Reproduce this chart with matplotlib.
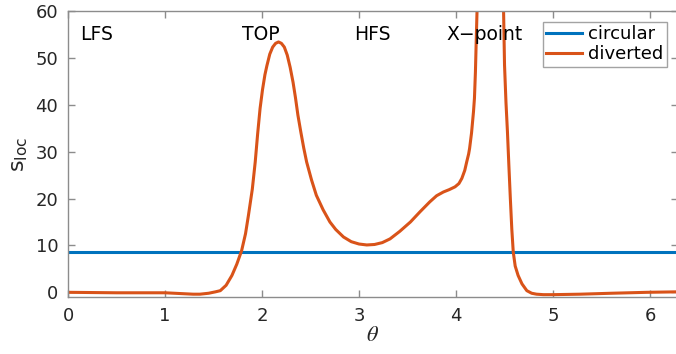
import numpy as np
import matplotlib.pyplot as plt

plt.rcParams['font.family'] = ['DejaVu Sans']
plt.rcParams['mathtext.fontset'] = 'stix'

# poloidal angle and local shear, circular vs diverted geometry
theta = [0.0, 0.5, 1.0, 1.29, 1.36, 1.45, 1.52, 1.57, 1.63, 1.69, 1.74, 1.79,
         1.83, 1.86, 1.90, 1.93, 1.955, 1.98, 2.005, 2.03, 2.05, 2.08, 2.11,
         2.14, 2.17, 2.20, 2.23, 2.26, 2.29, 2.32, 2.345, 2.37, 2.40, 2.43,
         2.46, 2.51, 2.56, 2.63, 2.70, 2.76, 2.84, 2.92, 3.00, 3.08, 3.16,
         3.24, 3.32, 3.42, 3.53, 3.63, 3.73, 3.80, 3.87, 3.93, 3.99, 4.03,
         4.06, 4.09, 4.11, 4.13, 4.14, 4.16, 4.18, 4.19, 4.20, 4.21, 4.23,
         4.30, 4.38, 4.46, 4.49, 4.50, 4.515, 4.53, 4.545, 4.56, 4.575, 4.59,
         4.61, 4.64, 4.68, 4.73, 4.78, 4.83, 4.90, 5.00, 5.28, 5.60, 5.97,
         6.283]
s_diverted = [0.0, -0.1, -0.1, -0.4, -0.4, -0.2, 0.1, 0.35, 1.5, 3.6, 6.0,
              8.9, 12.5, 16.4, 22.0, 27.8, 33.8, 39.2, 43.2, 46.4, 48.3, 50.8,
              52.3, 53.1, 53.4, 53.1, 52.3, 50.6, 48.0, 44.8, 41.5, 37.8, 34.2,
              30.8, 27.8, 24.0, 20.7, 17.6, 15.0, 13.4, 11.8, 10.8, 10.3, 10.1,
              10.2, 10.6, 11.4, 13.0, 15.0, 17.2, 19.3, 20.6, 21.4, 21.9, 22.5,
              23.2, 24.3, 26.0, 27.8, 29.5, 30.7, 34.0, 38.5, 41.4, 47.0, 55.0,
              70.0, 150.0, 150.0, 70.0, 60.3, 48.5, 40.5, 34.3, 27.0, 20.0,
              13.5, 8.6, 5.6, 3.6, 1.8, 0.35, -0.2, -0.4, -0.5, -0.5, -0.4,
              -0.2, 0.0, 0.1]
s_circular = 8.7

regions = ['LFS', 'TOP', 'HFS', 'X\u2212point']
region_x = [0.13, 1.79, 2.95, 3.90]

blue = '#0072BD'
orange = '#D95319'
axis_gray = '#8c8c8c'
text_col = '#262626'

fig = plt.figure(figsize=(6.76, 3.54), dpi=100)
ax = fig.add_axes([68 / 676, 57 / 354, 609.5 / 676, 286 / 354])

ax.plot([0, 2 * np.pi], [s_circular, s_circular], color=blue, lw=2.2, label='circular')
ax.plot(theta, s_diverted, color=orange, lw=2.2, label='diverted')

for name, x in zip(regions, region_x):
    ax.text(x, 55, name, fontsize=13.5, ha='left', va='center', color='black')

ax.set_xlim(0, 2 * np.pi)
ax.set_ylim(-1, 60)
ax.set_xticks(range(0, 7))
ax.set_yticks(range(0, 61, 10))

ax.tick_params(direction='in', length=5, width=1, colors=axis_gray,
               labelcolor=text_col, labelsize=13, top=True, right=True, pad=7)
for sp in ax.spines.values():
    sp.set_color(axis_gray)
    sp.set_linewidth(1)

ax.set_xlabel(r'$\theta$', fontsize=16, color=text_col, labelpad=0)
ax.set_ylabel(r'$\mathregular{s_{loc}}$', fontsize=16, color=text_col, labelpad=4)

leg = ax.legend(loc='upper right', fontsize=13, frameon=True, fancybox=False,
                borderpad=0.2, labelspacing=0.1, handlelength=2.0,
                handletextpad=0.3, borderaxespad=0.6)
leg.get_frame().set_edgecolor(axis_gray)
leg.get_frame().set_linewidth(1)

fig.savefig('out.png', dpi=100)
